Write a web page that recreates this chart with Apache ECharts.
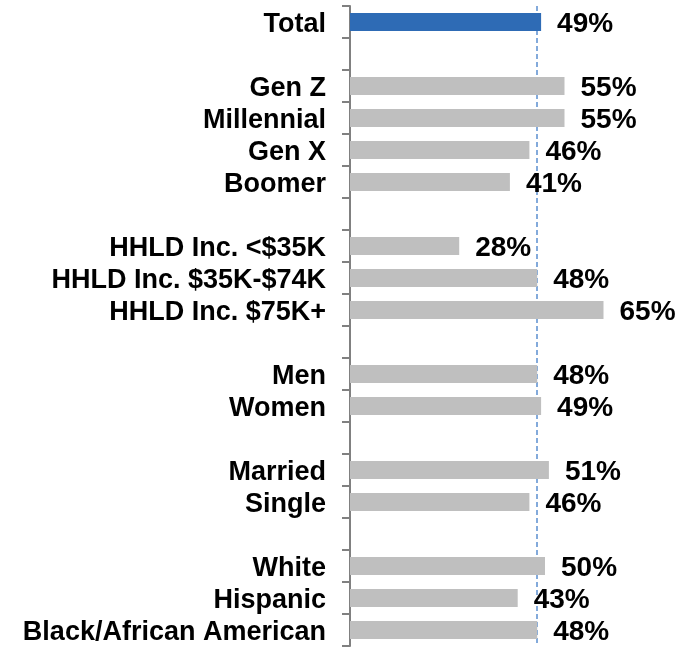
<!DOCTYPE html>
<html>
<head>
<meta charset="utf-8">
<script src="https://cdn.jsdelivr.net/npm/echarts@6/dist/echarts.min.js"></script>
<style>html,body{margin:0;padding:0;background:#fff}#c{width:700px;height:648px}</style>
</head>
<body>
<div id="c"></div>
<script>
const categories = ['Total', ' ', 'Gen Z', 'Millennial', 'Gen X', 'Boomer', '  ',
  'HHLD Inc. <$35K', 'HHLD Inc. $35K-$74K', 'HHLD Inc. $75K+', '   ',
  'Men', 'Women', '    ', 'Married', 'Single', '     ',
  'White', 'Hispanic', 'Black/African American'];
const values = [49, null, 55, 55, 46, 41, null, 28, 48, 65, null, 48, 49, null, 51, 46, null, 50, 43, 48];
const highlighted = ['Total'];
const referenceLine = 48;

const FONT = "'Liberation Sans', Arial, sans-serif";
const chart = echarts.init(document.getElementById('c'), null, {renderer: 'canvas'});
chart.setOption({
  animation: false,
  backgroundColor: '#ffffff',
  grid: {left: 350, top: 6, height: 640, right: 38, containLabel: false},
  xAxis: {
    type: 'value', min: 0, max: 80, show: false
  },
  yAxis: {
    type: 'category', inverse: true, data: categories,
    axisLine: {show: true, lineStyle: {color: '#808080', width: 2}},
    axisTick: {show: true, length: 8, inside: false, lineStyle: {color: '#808080', width: 2}},
    axisLabel: {margin: 24, color: '#000', fontSize: 27, fontWeight: 'bold', fontFamily: FONT,
      interval: 0,
      formatter: v => '{a|' + v + '}',
      rich: {a: {color: '#000', fontSize: 27, fontWeight: 'bold', fontFamily: FONT, padding: [5, 0, 0, 0]}}},
    splitLine: {show: false}
  },
  series: [{
    type: 'bar',
    z: 2,
    barWidth: 18,
    data: values.map((v, i) => ({
      value: v,
      itemStyle: {color: highlighted.includes(categories[i]) ? '#2E6BB5' : '#BFBFBF'}
    })),
    label: {
      show: true, position: 'right', distance: 16, offset: [0, 2],
      formatter: p => p.value == null ? '' : p.value + '%',
      color: '#000', fontSize: 28, fontWeight: 'bold', fontFamily: FONT
    },
    markLine: {
      z: 1,
      silent: true,
      symbol: ['none', 'none'],
      label: {show: false},
      lineStyle: {color: '#5B8FD0', width: 1.5, type: [5, 3]},
      data: [{xAxis: referenceLine}]
    }
  }]
});
</script>
</body>
</html>
